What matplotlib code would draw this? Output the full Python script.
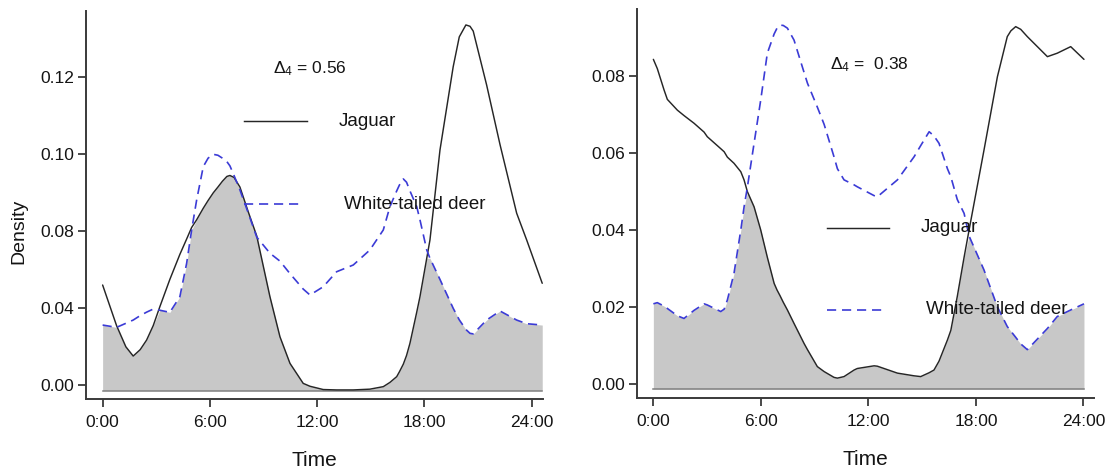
import numpy as np
import matplotlib
matplotlib.use("Agg")
import matplotlib.pyplot as plt
from matplotlib.lines import Line2D

plt.rcParams['font.family'] = ['Liberation Sans', 'DejaVu Sans']
plt.rcParams['mathtext.fontset'] = 'custom'
plt.rcParams['mathtext.rm'] = 'Liberation Sans'
plt.rcParams['mathtext.it'] = 'Liberation Sans:italic'

# ---------------- data: left panel ----------------
left_hours = [0.00, 0.78, 1.30, 1.71, 2.10, 2.46, 2.83, 3.20, 3.76, 4.32, 4.70, 4.98,
              5.26, 5.63, 5.90, 6.19, 6.45, 6.70, 6.95, 7.12, 7.35, 7.68, 8.15, 8.62,
              9.36, 9.92, 10.48, 11.22, 11.60, 12.34, 13.09, 14.02, 14.95, 15.70, 16.07,
              16.45, 16.60, 16.82, 17.00, 17.19, 17.57, 17.75, 18.13, 18.31, 18.87,
              19.61, 19.95, 20.32, 20.55, 20.73, 21.48, 22.23, 23.16, 23.72, 24.59]
left_jaguar = [0.0521, 0.0310, 0.0200, 0.0152, 0.0185, 0.0235, 0.0310, 0.0408, 0.0550,
               0.0680, 0.0760, 0.0820, 0.0860, 0.0920, 0.0960, 0.1000, 0.1030, 0.1060,
               0.1085, 0.1090, 0.1080, 0.1030, 0.0900, 0.0776, 0.0460, 0.0252, 0.0114,
               0.0010, -0.0005, -0.0022, -0.0024, -0.0024, -0.0020, -0.0007, 0.0015,
               0.0045, 0.0070, 0.0110, 0.0155, 0.0218, 0.0380, 0.0460, 0.0660, 0.0755,
               0.1222, 0.1655, 0.1810, 0.1872, 0.1865, 0.1840, 0.1560, 0.1250, 0.0894,
               0.0755, 0.0530]
left_deer = [0.0313, 0.0301, 0.0322, 0.0339, 0.0362, 0.0380, 0.0396, 0.0390, 0.0379,
             0.0460, 0.0634, 0.0807, 0.0963, 0.1136, 0.1180, 0.1200, 0.1195, 0.1180,
             0.1162, 0.1140, 0.1090, 0.1015, 0.0894, 0.0770, 0.0686, 0.0645, 0.0580,
             0.0500, 0.0469, 0.0512, 0.0590, 0.0625, 0.0703, 0.0807, 0.0928, 0.1010,
             0.1040, 0.1072, 0.1055, 0.1010, 0.0928, 0.0860, 0.0703, 0.0660, 0.0550,
             0.0400, 0.0340, 0.0290, 0.0270, 0.0267, 0.0339, 0.0386, 0.0339, 0.0320,
             0.0313]
left_baseline = -0.0027
left_ytick_pos = [0.00, 0.04, 0.08, 0.12, 0.16]
left_ytick_labels = ["0.00", "0.04", "0.08", "0.10", "0.12"]
left_overlap = "0.56"

# ---------------- data: right panel ----------------
right_hours = [0.00, 0.22, 0.60, 0.78, 1.34, 1.71, 2.27, 2.83, 3.01, 3.76, 3.95, 4.13,
               4.50, 4.88, 5.06, 5.25, 5.62, 5.99, 6.36, 6.74, 6.90, 7.07, 7.25, 7.48,
               7.85, 8.41, 8.60, 9.15, 9.53, 10.08, 10.27, 10.64, 11.20, 11.38, 12.32,
               12.50, 13.62, 14.55, 14.92, 15.39, 15.66, 15.94, 16.41, 16.60, 16.96,
               17.34, 17.62, 18.45, 19.20, 19.75, 19.95, 20.22, 20.50, 20.87, 21.99,
               22.54, 23.29, 24.03]
right_jaguar = [0.0844, 0.0820, 0.0764, 0.0740, 0.0712, 0.0698, 0.0678, 0.0655, 0.0643,
                0.0612, 0.0604, 0.0590, 0.0574, 0.0552, 0.0531, 0.0500, 0.0461, 0.0401,
                0.0330, 0.0262, 0.0245, 0.0230, 0.0213, 0.0193, 0.0158, 0.0106, 0.0090,
                0.0046, 0.0033, 0.0018, 0.0016, 0.0020, 0.0037, 0.0041, 0.0048, 0.0047,
                0.0029, 0.0022, 0.0020, 0.0030, 0.0037, 0.0060, 0.0115, 0.0140, 0.0228,
                0.0330, 0.0401, 0.0608, 0.0799, 0.0903, 0.0918, 0.0929, 0.0922, 0.0903,
                0.0851, 0.0860, 0.0877, 0.0844]
right_deer = [0.0209, 0.0212, 0.0203, 0.0197, 0.0178, 0.0171, 0.0192, 0.0209, 0.0206,
              0.0189, 0.0195, 0.0219, 0.0288, 0.0401, 0.0460, 0.0513, 0.0626, 0.0738,
              0.0860, 0.0910, 0.0925, 0.0933, 0.0932, 0.0925, 0.0894, 0.0810, 0.0782,
              0.0720, 0.0675, 0.0591, 0.0560, 0.0531, 0.0518, 0.0513, 0.0490, 0.0487,
              0.0531, 0.0591, 0.0620, 0.0656, 0.0645, 0.0626, 0.0560, 0.0539, 0.0480,
              0.0444, 0.0385, 0.0297, 0.0201, 0.0150, 0.0138, 0.0122, 0.0105, 0.0090,
              0.0145, 0.0176, 0.0193, 0.0209]
right_baseline = -0.0012
right_ytick_pos = [0.00, 0.02, 0.04, 0.06, 0.08]
right_ytick_labels = ["0.00", "0.02", "0.04", "0.06", "0.08"]
right_overlap = "0.38"

xtick_pos = [0, 6, 12, 18, 24]
xtick_labels = ["0:00", "6:00", "12:00", "18:00", "24:00"]
species = ["Jaguar", "White-tailed deer"]

# ---------------- styling ----------------
W, H = 1108, 474
JAG_COLOR = '#262626'
DEER_COLOR = '#3b3bd6'
FILL_COLOR = '#c8c8c8'
BASE_COLOR = '#808080'
SPINE_COLOR = '#3a3a3a'
TEXT_COLOR = '#141414'

fig = plt.figure(figsize=(W / 100, H / 100), dpi=100)


def fx(px):
    return px / W


def fy(py):
    return 1 - py / H


def panel(rect, hours, jag, deer, base, ylim, xlim, ytp, ytl, ylabel):
    ax = fig.add_axes(rect)
    hours = np.asarray(hours)
    jag = np.asarray(jag)
    deer = np.asarray(deer)
    ax.fill_between(hours, base, np.minimum(jag, deer), color=FILL_COLOR, lw=0, zorder=1)
    ax.plot([hours[0], hours[-1]], [base, base], color=BASE_COLOR, lw=1.1, zorder=2)
    ax.plot(hours, jag, color=JAG_COLOR, lw=1.05, zorder=3,
            solid_joinstyle='round', solid_capstyle='round')
    ax.plot(hours, deer, color=DEER_COLOR, lw=1.2, dashes=(5.5, 3.5), zorder=3,
            dash_joinstyle='round')
    ax.set_xlim(*xlim)
    ax.set_ylim(*ylim)
    for s in ['top', 'right']:
        ax.spines[s].set_visible(False)
    for s in ['left', 'bottom']:
        ax.spines[s].set_color(SPINE_COLOR)
        ax.spines[s].set_linewidth(1.4)
    ax.set_xticks(xtick_pos)
    ax.set_xticklabels(xtick_labels)
    ax.set_yticks(ytp)
    ax.set_yticklabels(ytl)
    ax.tick_params(axis='both', direction='out', length=5.5, width=1.3,
                   color=SPINE_COLOR, labelsize=12.5, labelcolor=TEXT_COLOR)
    ax.tick_params(axis='x', pad=6.0)
    ax.tick_params(axis='y', pad=3.0)
    ax.set_xlabel("Time", fontsize=15, color=TEXT_COLOR)
    ax.xaxis.set_label_coords(0.5, -0.158)
    ax.xaxis.label.set_va('center')
    if ylabel:
        ax.set_ylabel(ylabel, fontsize=14, color=TEXT_COLOR)
        ax.yaxis.set_label_coords(-0.1465, 0.433)
        ax.yaxis.label.set_va('center')
    return ax


axL = panel([86 / W, 1 - 399.3 / H, 457.3 / W, 388.6 / H],
            left_hours, left_jaguar, left_deer, left_baseline,
            (-0.00727, 0.1946), (-0.93, 24.65), left_ytick_pos, left_ytick_labels, "Density")
axR = panel([636.7 / W, 1 - 398.3 / H, 457.3 / W, 389.0 / H],
            right_hours, right_jaguar, right_deer, right_baseline,
            (-0.00364, 0.0974), (-0.93, 24.59), right_ytick_pos, right_ytick_labels, None)


# ---------------- annotations / legends ----------------
def legend_block(delta_text, dx, dy, lx0, lx1, jy, jtx, dly, dtx):
    fig.text(fx(dx), fy(dy), delta_text, fontsize=12.5, va='center', ha='left', color=TEXT_COLOR)
    fig.add_artist(Line2D([fx(lx0), fx(lx1)], [fy(jy), fy(jy)], transform=fig.transFigure,
                          color=JAG_COLOR, lw=1.05))
    fig.text(fx(jtx), fy(jy), species[0], fontsize=13.5, va='center', ha='left', color=TEXT_COLOR)
    fig.add_artist(Line2D([fx(lx0), fx(lx1 - 4)], [fy(dly), fy(dly)], transform=fig.transFigure,
                          color=DEER_COLOR, lw=1.2, dashes=(5.5, 3.5)))
    fig.text(fx(dtx), fy(dly), species[1], fontsize=13.5, va='center', ha='left', color=TEXT_COLOR)


legend_block(r'$\Delta_4$ = ' + left_overlap, 273, 69, 244, 307, 121, 339, 204, 344)
legend_block(r'$\Delta_4$ =  ' + right_overlap, 830, 65, 827, 889, 228, 920.5, 310, 925.5)

fig.savefig("out.png", dpi=100, facecolor='white')
